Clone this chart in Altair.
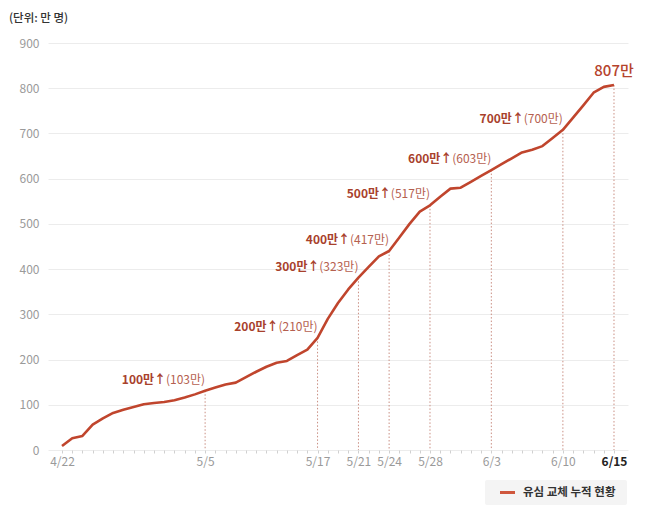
import altair as alt
import pandas as pd

# ---------------- data ----------------
unit_label = "(단위: 만 명)"
series_name = "유심 교체 누적 현황"

# cumulative USIM replacements (만 명), one value per day from 4/22 to 6/15
cumulative = [9, 26, 31, 56, 70, 82, 89, 95, 101, 104,
              106, 110, 116, 123, 131, 138, 145, 149, 161, 173,
              184, 193, 197, 210, 222, 248, 290, 325, 355, 381,
              405, 428, 440, 470, 500, 527, 541, 560, 578, 580,
              593, 606, 619, 632, 645, 658, 664, 672, 690, 708,
              735, 762, 790, 803, 807]

# x-axis tick labels and the day index where each is drawn
date_labels = ["4/22", "5/5", "5/17", "5/21", "5/24", "5/28", "6/3", "6/10", "6/15"]
date_label_days = [0, 14, 25, 29, 32, 36, 42, 49, 54]

# milestone annotations
milestone_days = [14, 25, 29, 32, 36, 42, 49]
milestone_main = ["100만↑", "200만↑", "300만↑", "400만↑", "500만↑", "600만↑", "700만↑"]
milestone_actual = ["(103만)", "(210만)", "(323만)", "(417만)", "(517만)", "(603만)", "(700만)"]
final_label = "807만"

y_ticks = [0, 100, 200, 300, 400, 500, 600, 700, 800, 900]

# ---------------- tables ----------------
FONT = "Noto Sans CJK KR"
LINE_COLOR = "#c0452d"

days = list(range(len(cumulative)))
df = pd.DataFrame({"day": days, "value": cumulative})
ms = pd.DataFrame({
    "day": milestone_days,
    "main": milestone_main,
    "actual": milestone_actual,
    "value": [cumulative[d] for d in milestone_days],
})
rules = pd.DataFrame({
    "day": date_label_days[1:],
    "value": [cumulative[d] for d in date_label_days[1:]],
})
last = pd.DataFrame({"day": [days[-1]], "value": [cumulative[-1]], "label": [final_label]})
unit_df = pd.DataFrame({"t": [unit_label]})
legend_df = pd.DataFrame({"t": [series_name]})

label_expr = "".join(
    f"datum.value == {d} ? '{l}' : " for d, l in zip(date_label_days, date_labels)
) + "''"

x_scale = alt.Scale(domain=[-1.37, 55.37], nice=False, zero=False)
y_scale = alt.Scale(domain=[0, 900], nice=False)

x_axis = alt.Axis(
    values=days,
    tickCount=200,
    labelExpr=label_expr,
    labelOverlap=False,
    labelFlush=False,
    tickSize=3,
    tickColor="#d0d0d0",
    domain=False,
    grid=False,
    labelColor={"condition": {"test": "datum.value == 54", "value": "#222222"}, "value": "#9a9a9a"},
    labelFontWeight={"condition": {"test": "datum.value == 54", "value": "bold"}, "value": "normal"},
    labelFontSize=12,
    labelFont=FONT,
    labelPadding=3,
    title=None,
)
y_axis = alt.Axis(
    values=y_ticks,
    tickCount=20,
    grid=True,
    gridColor="#ececec",
    domain=False,
    ticks=False,
    labelPadding=9,
    labelColor="#9a9a9a",
    labelFontSize=12,
    labelFont=FONT,
    title=None,
)

base = alt.Chart(df)

line = base.mark_line(color=LINE_COLOR, strokeWidth=2.6, strokeJoin="round").encode(
    x=alt.X("day:Q", scale=x_scale, axis=x_axis),
    y=alt.Y("value:Q", scale=y_scale, axis=y_axis),
)

dotted = alt.Chart(rules).mark_rule(color="#c98e82", strokeDash=[1.5, 2], strokeWidth=1).encode(
    x=alt.X("day:Q", scale=x_scale),
    y=alt.Y("value:Q", scale=y_scale),
    y2=alt.datum(0),
)

actual_txt = alt.Chart(ms).mark_text(
    align="right", baseline="middle", dy=-11, font=FONT, fontSize=12, color="#b5604f"
).encode(x="day:Q", y="value:Q", text="actual:N")

main_txt = alt.Chart(ms).mark_text(
    align="right", baseline="middle", dx=-39, dy=-11, font=FONT, fontSize=12,
    fontWeight="bold", color="#a8412c"
).encode(x="day:Q", y="value:Q", text="main:N")

final_txt = alt.Chart(last).mark_text(
    align="center", baseline="middle", dy=-14, font=FONT, fontSize=15,
    fontWeight=500, color="#b5432d"
).encode(x="day:Q", y="value:Q", text="label:N")

unit_txt = alt.Chart(unit_df).mark_text(
    align="left", baseline="middle", font=FONT, fontSize=11.5, fontWeight=500, color="#333333"
).encode(x=alt.value(-39), y=alt.value(-24), text="t:N")

legend_box = alt.Chart(legend_df).mark_rect(fill="#f4f4f4", cornerRadius=2).encode(
    x=alt.value(437), x2=alt.value(579), y=alt.value(437), y2=alt.value(462)
)
legend_swatch = alt.Chart(legend_df).mark_rule(color="#cf573d", strokeWidth=3).encode(
    x=alt.value(452), x2=alt.value(467), y=alt.value(449.5), y2=alt.value(449.5)
)
legend_txt = alt.Chart(legend_df).mark_text(
    align="left", baseline="middle", font=FONT, fontSize=11.5, fontWeight="bold", color="#333333"
).encode(x=alt.value(475), y=alt.value(449.5), text="t:N")

chart = alt.layer(
    dotted, line, actual_txt, main_txt, final_txt, unit_txt,
    legend_box, legend_swatch, legend_txt
).properties(
    width=580,
    height=407,
    padding={"left": 40, "top": 35, "right": 22, "bottom": 60},
    autosize=alt.AutoSizeParams(type="none"),
    background="white",
).configure_view(stroke=None)

chart.save("out.html", embed_options={"renderer": "svg", "actions": False})
